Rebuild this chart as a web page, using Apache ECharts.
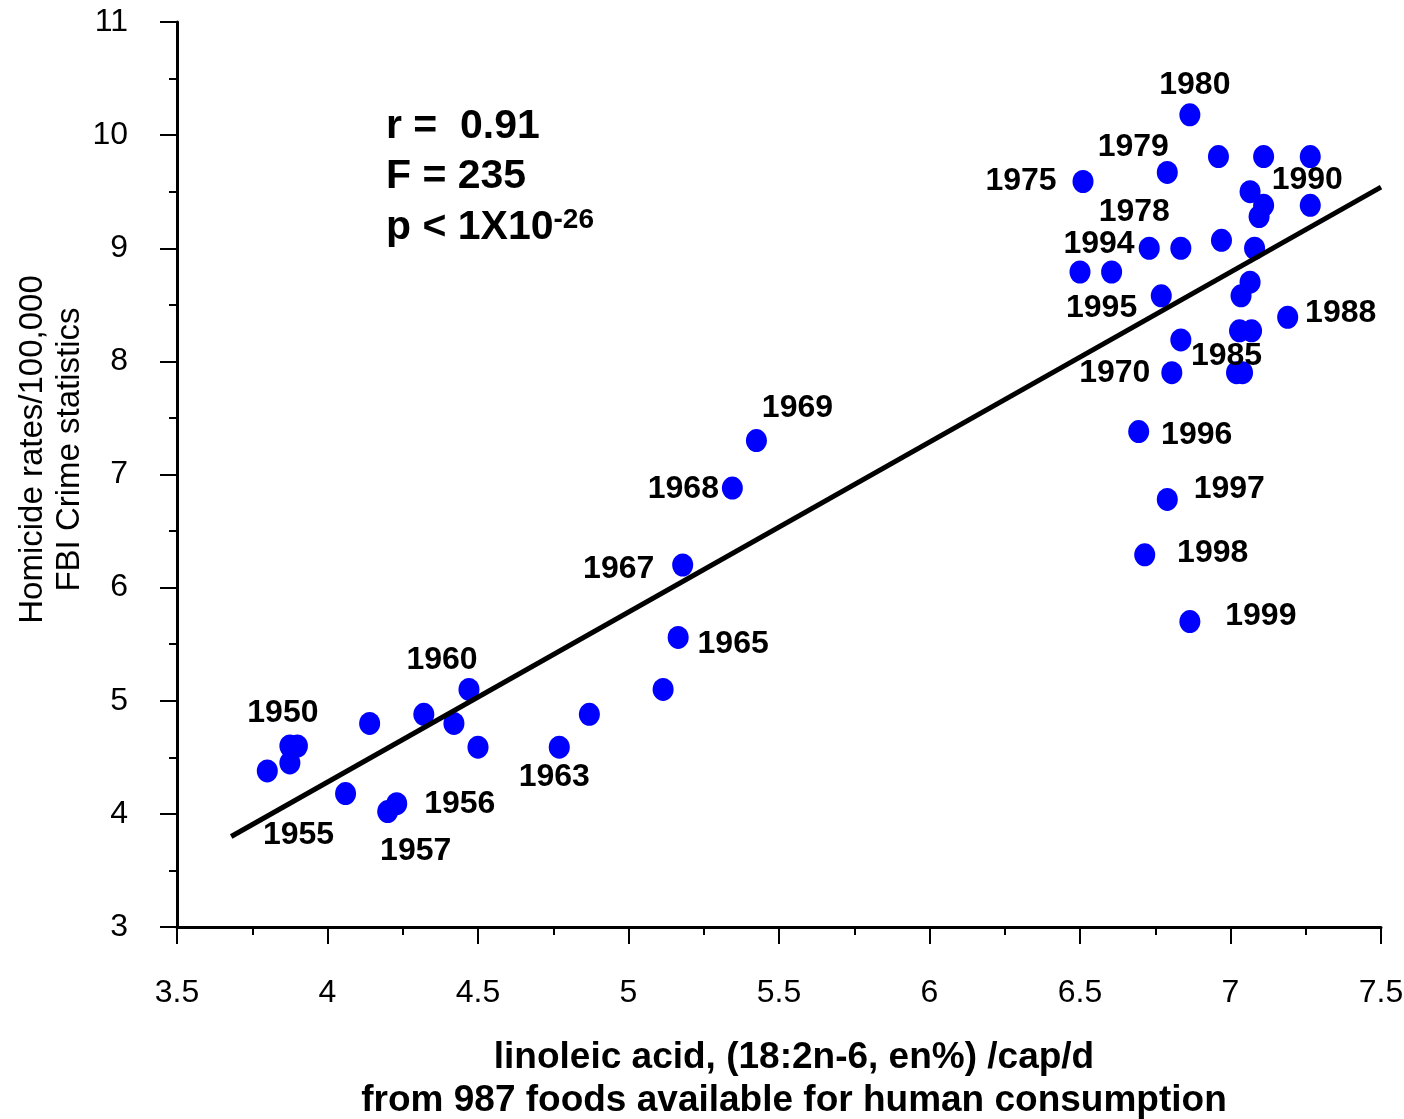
<!DOCTYPE html>
<html>
<head>
<meta charset="utf-8">
<title>Homicide rates vs linoleic acid</title>
<script src="https://cdn.jsdelivr.net/npm/echarts@6/dist/echarts.min.js"></script>
<style>
    html, body { margin: 0; padding: 0; background: #fff; }
    #chart { width: 1404px; height: 1119px; }
</style>
</head>
<body>
<div id="chart"></div>
<script>
    // linoleic acid en% (x) and homicide rate /100,000 (y), one entry per yearly point
    var linoleic = [3.80, 3.875, 3.90, 3.875, 4.06, 4.14, 4.23, 4.20, 4.32, 4.42,
        4.47, 4.50, 4.77, 4.87, 5.115, 5.165, 5.18, 5.345, 5.425, 6.805,
        6.51, 6.73, 6.79, 6.865, 7.02, 7.04, 7.19, 7.265, 6.50, 6.605,
        6.695, 6.79, 6.715, 6.865, 6.96, 7.11, 7.265, 7.065, 7.11, 7.095,
        6.97, 6.835, 7.08, 6.77, 7.065, 7.035, 7.03, 7.07, 6.835];
    var homicide = [4.38, 4.60, 4.60, 4.45, 4.18, 4.80, 4.09, 4.02, 4.88, 4.80,
        5.10, 4.59, 4.59, 4.88, 5.10, 5.56, 6.20, 6.88, 7.30, 7.90,
        9.59, 9.00, 9.67, 10.18, 7.90, 7.90, 8.39, 9.38, 8.79, 8.79,
        7.38, 6.78, 6.29, 5.70, 9.81, 9.81, 9.81, 9.50, 9.38, 9.28,
        9.07, 9.00, 9.00, 8.58, 8.70, 8.58, 8.27, 8.27, 8.19];
    var yearLabel = ['', '1950', '', '', '1955', '', '1956', '1957', '', '',
        '1960', '', '1963', '', '', '1965', '1967', '1968', '1969', '1970',
        '1975', '1978', '1979', '1980', '1985', '', '1988', '1990', '1994', '1995',
        '1996', '1997', '1998', '1999', '', '', '', '', '', '',
        '', '', '', '', '', '', '', '', ''];

    // regression line end points
    var fitX = [3.68, 7.5];
    var fitY = [3.80, 9.54];

    var xTicks = [3.5, 4, 4.5, 5, 5.5, 6, 6.5, 7, 7.5];
    var yTicks = [3, 4, 5, 6, 7, 8, 9, 10, 11];

    // where each year label sits relative to its point (px)
    var labelOffset = {
        '1950': [-7, -33], '1955': [-47, 42], '1956': [63, 0], '1957': [28, 40],
        '1960': [-27, -29], '1963': [-5, 30], '1965': [55, 7], '1967': [-64, 4],
        '1968': [-49, 1], '1969': [41, -32], '1970': [-57, 0], '1975': [-62, 0],
        '1978': [-15, -36], '1979': [-34, -25], '1980': [5, -30], '1985': [-10, -17],
        '1988': [53, -4], '1990': [-3, -25], '1994': [19, -28], '1995': [-10, 36],
        '1996': [58, 4], '1997': [62, -10], '1998': [68, -2], '1999': [71, -5]
    };

    var FONT = '"Liberation Sans", Arial, Helvetica, sans-serif';

    var points = linoleic.map(function (x, i) {
        var yr = yearLabel[i];
        return {
            value: [x, homicide[i]],
            label: yr ? { show: true, formatter: yr, offset: labelOffset[yr] } : { show: false }
        };
    });
    var fitLine = fitX.map(function (x, i) { return [x, fitY[i]]; });

    var myChart = echarts.init(document.getElementById('chart'));
    myChart.setOption({
        animation: false,
        backgroundColor: '#fff',
        grid: { left: 177, right: 23, top: 22, bottom: 192, outerBoundsMode: 'none' },
        xAxis: {
            type: 'value',
            min: xTicks[0],
            max: xTicks[xTicks.length - 1],
            interval: 0.5,
            name: 'linoleic acid, (18:2n-6, en%) /cap/d\nfrom 987 foods available for human consumption',
            nameLocation: 'middle',
            nameGap: 109,
            nameMoveOverlap: false,
            nameTextStyle: {
                fontFamily: FONT, fontSize: 37, fontWeight: 'bold', color: '#000',
                lineHeight: 43, padding: [0, 0, 0, 30]
            },
            axisLine: { show: true, onZero: false, lineStyle: { color: '#000', width: 3 } },
            axisTick: { show: true, length: 17, lineStyle: { color: '#000', width: 2 } },
            minorTick: { show: true, splitNumber: 2, length: 8, lineStyle: { color: '#000', width: 2 } },
            splitLine: { show: false },
            axisLabel: { fontFamily: FONT, fontSize: 32, color: '#000', margin: 50 }
        },
        yAxis: {
            type: 'value',
            min: yTicks[0],
            max: yTicks[yTicks.length - 1],
            interval: 1,
            name: 'Homicide rates/100,000\nFBI Crime statistics',
            nameLocation: 'middle',
            nameRotate: 90,
            nameGap: 89,
            nameMoveOverlap: false,
            nameTextStyle: {
                fontFamily: FONT, fontSize: 33, color: '#000',
                lineHeight: 37, padding: [0, 0, 0, 50]
            },
            axisLine: { show: true, onZero: false, lineStyle: { color: '#000', width: 3 } },
            axisTick: { show: true, length: 17, lineStyle: { color: '#000', width: 2 } },
            minorTick: { show: true, splitNumber: 2, length: 8, lineStyle: { color: '#000', width: 2 } },
            splitLine: { show: false },
            axisLabel: { fontFamily: FONT, fontSize: 32, color: '#000', margin: 49 }
        },
        graphic: [
            {
                type: 'text', x: 386, y: 127,
                style: { text: 'r =  0.91', font: 'bold 41px ' + FONT, fill: '#000', verticalAlign: 'middle' }
            },
            {
                type: 'text', x: 386, y: 177,
                style: { text: 'F = 235', font: 'bold 41px ' + FONT, fill: '#000', verticalAlign: 'middle' }
            },
            {
                type: 'text', x: 386, y: 228,
                style: {
                    text: '{m|p < 1X10}{s|-26}',
                    verticalAlign: 'middle',
                    rich: {
                        m: { fontFamily: FONT, fontSize: 41, fontWeight: 'bold', color: '#000', lineHeight: 44 },
                        s: { fontFamily: FONT, fontSize: 28, fontWeight: 'bold', color: '#000', lineHeight: 28, verticalAlign: 'top' }
                    }
                }
            }
        ],
        series: [
            {
                name: 'fit',
                type: 'line',
                data: fitLine,
                showSymbol: false,
                silent: true,
                lineStyle: { color: '#000', width: 5 }
            },
            {
                name: 'years',
                type: 'scatter',
                data: points,
                symbol: 'circle',
                symbolSize: [21, 23],
                itemStyle: { color: '#0000FF', opacity: 1 },
                label: {
                    position: 'inside',
                    fontFamily: FONT, fontSize: 32, fontWeight: 'bold', color: '#000'
                }
            }
        ]
    });
</script>
</body>
</html>
